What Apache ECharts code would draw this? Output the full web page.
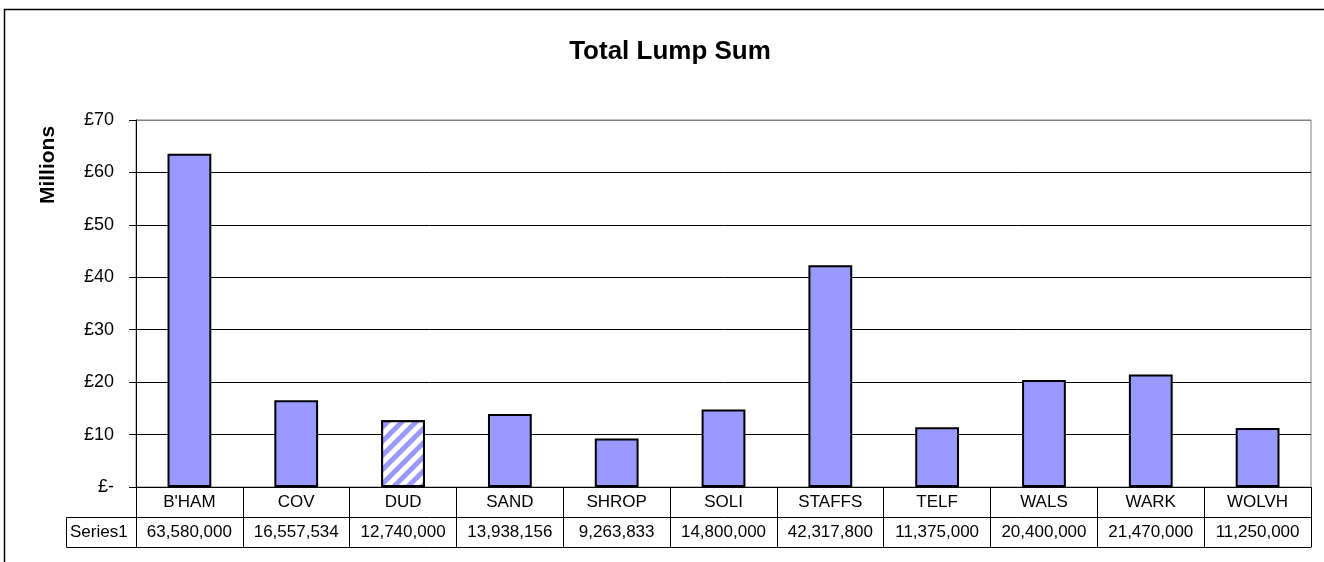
<!DOCTYPE html>
<html>
<head>
<meta charset="utf-8">
<script src="https://cdn.jsdelivr.net/npm/echarts@6/dist/echarts.min.js"></script>
<style>
  html, body { margin: 0; padding: 0; background: #fff; }
  #chart { width: 1324px; height: 562px; }
</style>
</head>
<body>
<div id="chart"></div>
<script>
// chart data
const categories = ["B'HAM", 'COV', 'DUD', 'SAND', 'SHROP', 'SOLI', 'STAFFS', 'TELF', 'WALS', 'WARK', 'WOLVH'];
const lumpSum = [63580000, 16557534, 12740000, 13938156, 9263833, 14800000, 42317800, 11375000, 20400000, 21470000, 11250000];
const seriesName = 'Series1';
const hatched = ['DUD'];
const yTicks = [0, 10, 20, 30, 40, 50, 60, 70];

const FONT = "'Liberation Sans', Arial, sans-serif";

function withCommas(n) {
  return String(n).replace(/\B(?=(\d{3})+(?!\d))/g, ',');
}

const barData = lumpSum.map((v, i) => {
  const item = { value: v / 1e6 };
  if (hatched.indexOf(categories[i]) >= 0) {
    // striped fill for the highlighted bar
    item.itemStyle = {
      color: '#ffffff',
      decal: {
        symbol: 'rect',
        symbolSize: 1,
        color: '#9999FF',
        backgroundColor: '#ffffff',
        dashArrayX: [1, 0],
        dashArrayY: [5, 5],
        rotation: -Math.PI / 4
      }
    };
  }
  return item;
});

const myChart = echarts.init(document.getElementById('chart'));

// gridline colours: black, top one grey like the plot border
const splitColors = yTicks.map((t, i) => i === yTicks.length - 1 ? '#808080' : '#000000');

myChart.setOption({
  animation: false,
  backgroundColor: '#ffffff',
  textStyle: { fontFamily: FONT },
  grid: {
    left: 136, top: 120, right: 13, bottom: 75,
    show: true, borderColor: '#808080', borderWidth: 1, backgroundColor: 'transparent'
  },
  graphic: [
    { // outer chart frame
      type: 'rect', silent: true,
      shape: { x: 4.5, y: 9.5, width: 1340, height: 600 },
      style: { fill: 'none', stroke: '#000', lineWidth: 1.5 }
    },
    {
      type: 'text', silent: true, x: 670, y: 52,
      style: { text: 'Total Lump Sum', font: 'bold 26px ' + FONT, fill: '#000', align: 'center', verticalAlign: 'middle' }
    },
    {
      type: 'text', silent: true, x: 48, y: 165, rotation: Math.PI / 2,
      style: { text: 'Millions', font: 'bold 21px ' + FONT, fill: '#000', align: 'center', verticalAlign: 'middle' }
    },
    { // legend key cell of the data table
      type: 'rect', silent: true,
      shape: { x: 66.5, y: 517.5, width: 70, height: 30 },
      style: { fill: 'none', stroke: '#000', lineWidth: 1 }
    },
    {
      type: 'text', silent: true, x: 70, y: 532,
      style: { text: seriesName, font: '17px ' + FONT, fill: '#000', align: 'left', verticalAlign: 'middle' }
    }
  ],
  xAxis: [
    {
      type: 'category',
      data: categories,
      position: 'bottom',
      axisLine: { show: true, lineStyle: { color: '#000', width: 1 } },
      axisTick: { show: true, interval: 0, length: 60, lineStyle: { color: '#000', width: 1 } },
      axisLabel: { interval: 0, margin: 7, color: '#000', fontSize: 17, fontFamily: FONT },
      splitLine: { show: false }
    },
    {
      type: 'category',
      data: categories,
      position: 'bottom',
      offset: 30,
      axisLine: { show: true, lineStyle: { color: '#000', width: 1 } },
      axisTick: { show: false },
      axisLabel: {
        interval: 0, margin: 7, color: '#000', fontSize: 17, fontFamily: FONT,
        formatter: (v, i) => withCommas(lumpSum[i])
      }
    },
    {
      type: 'category',
      data: categories,
      position: 'bottom',
      offset: 60,
      axisLine: { show: true, lineStyle: { color: '#000', width: 1 } },
      axisTick: { show: false },
      axisLabel: { show: false }
    }
  ],
  yAxis: {
    type: 'value',
    min: 0, max: 70, interval: 10,
    axisLine: { show: true, lineStyle: { color: '#000', width: 1 } },
    axisTick: { show: true, length: 7, lineStyle: { color: '#000' } },
    axisLabel: {
      margin: 22, color: '#000', fontSize: 18, fontFamily: FONT,
      formatter: v => v === 0 ? '£-' : '£' + v
    },
    splitLine: { show: true, lineStyle: { color: splitColors, width: 1 } }
  },
  series: [{
    name: seriesName,
    type: 'bar',
    xAxisIndex: 0,
    barWidth: '41%',
    itemStyle: { color: '#9999FF', borderColor: '#000', borderWidth: 2 },
    data: barData
  }]
});
</script>
</body>
</html>
